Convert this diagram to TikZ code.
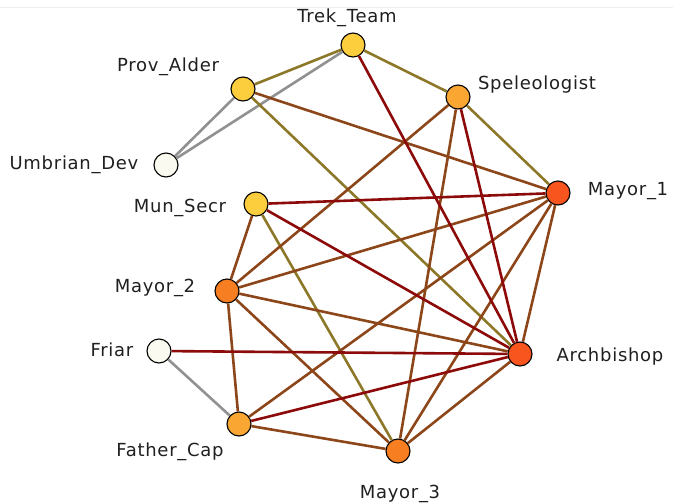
\documentclass[tikz,border=0pt]{standalone}
\usepackage{fontspec}
\setmainfont{DejaVu Sans}[LetterSpace=4]
\definecolor{tieolive}{RGB}{140,120,40}
\definecolor{tiegray}{RGB}{145,145,145}
\definecolor{tiered}{RGB}{140,10,10}
\definecolor{tiebrown}{RGB}{140,70,25}
\definecolor{fillgold}{RGB}{252,205,60}
\definecolor{fillamber}{RGB}{250,166,50}
\definecolor{fillorange}{RGB}{248,126,34}
\definecolor{fillred}{RGB}{248,84,30}
\definecolor{fillivory}{RGB}{250,250,240}

\begin{document}
\begin{tikzpicture}[x=1pt, y=-1pt]
                    \tikzset{actor/.style={circle, draw=black, line width=1.1pt, minimum size=24pt, inner sep=0pt},
                      name tag/.style={font=\fontsize{18}{21}\selectfont, text=black!88, inner sep=0pt},
                      tie/.style={line width=2.6pt}}
                    \useasboundingbox (0,0) rectangle (673,504);
                    \draw[black!7, line width=0.8pt] (0,7) -- (673,7);
                    % actors
                    \node[actor, fill=fillgold] (trek) at (353,45) {};
                    \node[actor, fill=fillgold] (alder) at (243,89) {};
                    \node[actor, fill=fillivory] (umbrian) at (166,165) {};
                    \node[actor, fill=fillgold] (secr) at (256,204) {};
                    \node[actor, fill=fillamber] (speleo) at (458,97) {};
                    \node[actor, fill=fillred] (mayorA) at (558,193) {};
                    \node[actor, fill=fillorange] (mayorB) at (227,291) {};
                    \node[actor, fill=fillivory] (friar) at (159,351) {};
                    \node[actor, fill=fillamber] (fathercap) at (239,424) {};
                    \node[actor, fill=fillred] (archb) at (520,354) {};
                    \node[actor, fill=fillorange] (mayorC) at (398,451) {};
                    % names
                    \node[name tag] (trekL) at (347,18) {Trek\_Team};
                    \node[name tag] (alderL) at (168,67) {Prov\_Alder};
                    \node[name tag] (umbrianL) at (74,165) {Umbrian\_Dev};
                    \node[name tag] (secrL) at (180,208) {Mun\_Secr};
                    \node[name tag] (speleoL) at (537,85) {Speleologist};
                    \node[name tag] (mayorAL) at (628,191) {Mayor\_1};
                    \node[name tag] (mayorBL) at (155,288) {Mayor\_2};
                    \node[name tag] (friarL) at (112,350) {Friar};
                    \node[name tag] (fathercapL) at (170,452) {Father\_Cap};
                    \node[name tag] (archbL) at (610,357) {Archbishop};
                    \node[name tag] (mayorCL) at (400,494) {Mayor\_3};
                    % ties
                    \draw[tie, tiegray] (trek) -- (umbrian) (alder) -- (umbrian) (friar) -- (fathercap);
                    \draw[tie, tieolive] (trek) -- (alder) (trek) -- (speleo) (alder) -- (archb)
                        (secr) -- (mayorC) (speleo) -- (mayorA);
                    \draw[tie, tiebrown] (alder) -- (mayorA) (speleo) -- (mayorB) (speleo) -- (mayorC)
                        (mayorA) -- (mayorB) (mayorA) -- (fathercap) (mayorA) -- (mayorC) (mayorA) -- (archb)
                        (secr) -- (mayorB) (mayorB) -- (archb) (mayorB) -- (mayorC) (mayorB) -- (fathercap)
                        (fathercap) -- (mayorC) (mayorC) -- (archb);
                    \draw[tie, tiered] (trek) -- (archb) (speleo) -- (archb) (secr) -- (mayorA)
                        (secr) -- (archb) (friar) -- (archb) (fathercap) -- (archb);
                \end{tikzpicture}
\end{document}
